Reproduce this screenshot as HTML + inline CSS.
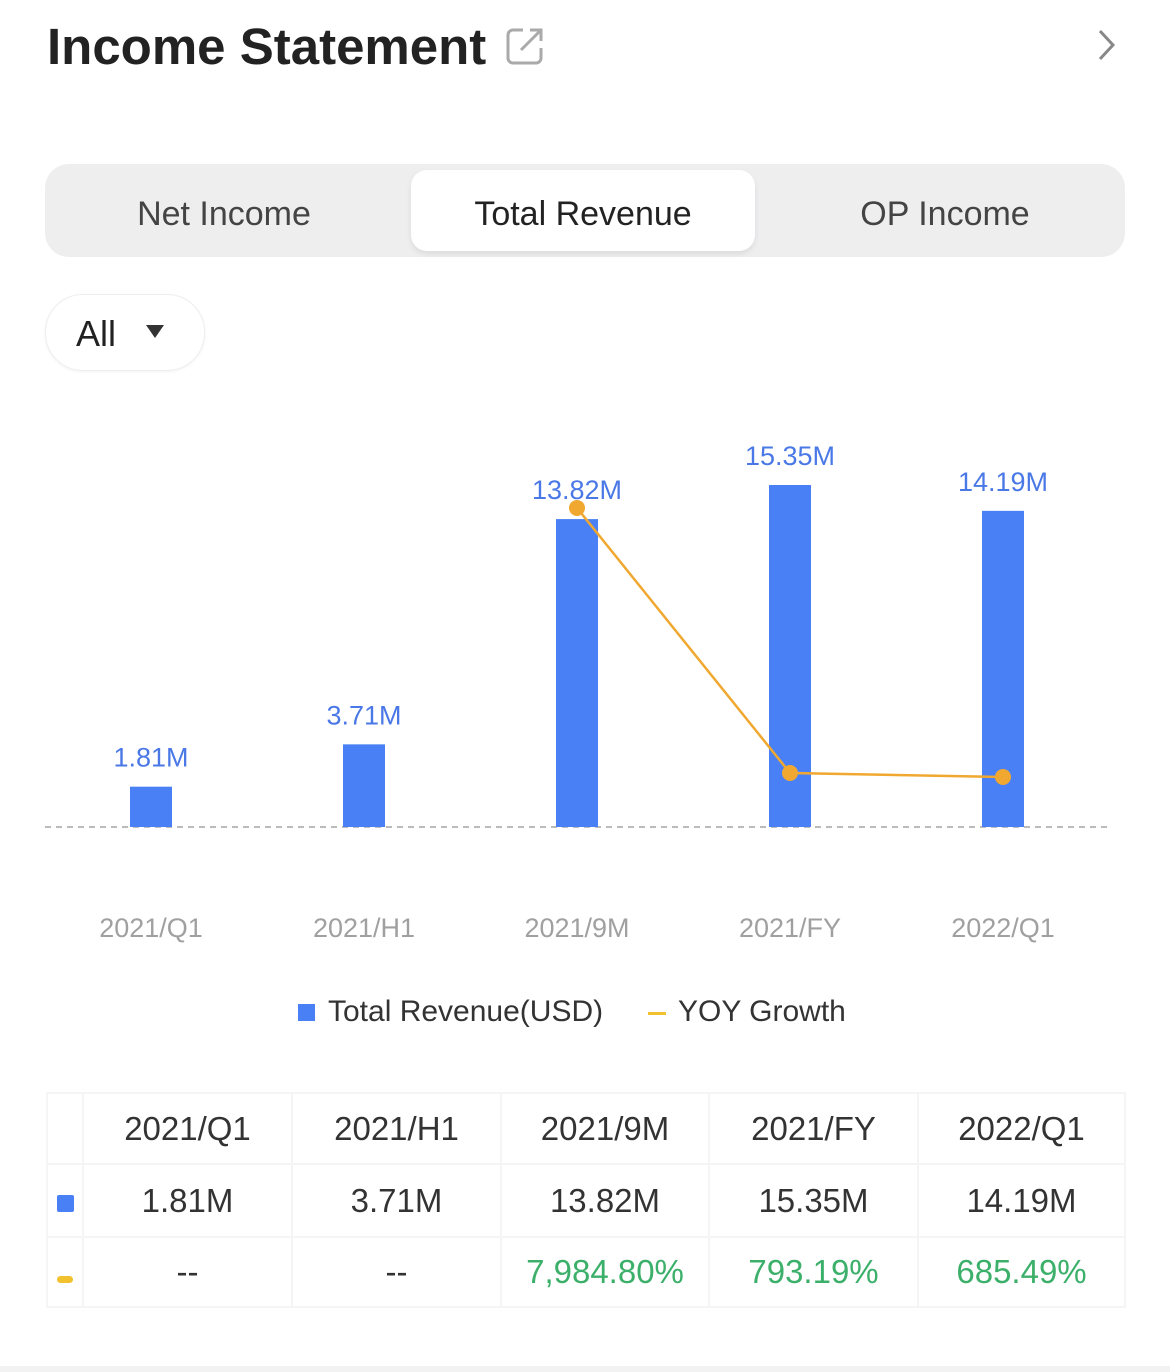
<!DOCTYPE html>
<html><head><meta charset="utf-8"><style>
body{margin:0;width:1170px;height:1372px;background:#fff;font-family:"Liberation Sans",sans-serif;position:relative;overflow:hidden}
.abs{position:absolute}
.tabs{left:45px;top:164px;width:1080px;height:93px;background:#eeeeef;border-radius:24px}
.tab{position:absolute;top:4px;height:93px;line-height:93px;text-align:center;font-size:34px;color:#444;width:344px}
.tab.active{background:#fff;top:6px;height:81px;line-height:89px;border-radius:16px;color:#222;box-shadow:0 3px 6px rgba(0,0,0,.08)}
table{border-collapse:collapse;position:absolute;left:46px;top:1092px}
td{border:2px solid #f5f5f5;text-align:center;font-size:33px;color:#333;padding:0}
</style></head><body>
<div class="abs" style="left:47px;top:17px;font-size:51px;font-weight:bold;color:#222">Income Statement</div>
<svg class="abs" style="left:505px;top:26px" width="40" height="40"><path d="M18 4H8a5 5 0 0 0-5 5v23a5 5 0 0 0 5 5h23a5 5 0 0 0 5-5V22" fill="none" stroke="#aaa" stroke-width="3"/><path d="M16 24L35 5M25 4h11v11" fill="none" stroke="#aaa" stroke-width="3"/></svg>
<svg class="abs" style="left:1096px;top:28px" width="22" height="34"><path d="M4 3l13 14L4 31" fill="none" stroke="#888" stroke-width="3"/></svg>
<div class="abs tabs">
<div class="tab" style="left:7px">Net Income</div>
<div class="tab active" style="left:366px">Total Revenue</div>
<div class="tab" style="left:728px">OP Income</div>
</div>
<div class="abs" style="left:45px;top:294px;width:158px;height:75px;border:1px solid #eee;border-radius:38px;box-shadow:0 1px 3px rgba(0,0,0,.05)">
<span style="position:absolute;left:30px;top:18px;font-size:36px;color:#222">All</span>
<span style="position:absolute;left:100px;top:30px;width:0;height:0;border-left:9px solid transparent;border-right:9px solid transparent;border-top:13px solid #333"></span>
</div>
<svg class="abs" id="chart" style="left:0;top:400px" width="1170" height="560"></svg>
<div class="abs" style="left:298px;top:995px;font-size:30px;color:#333"><span style="display:inline-block;width:17px;height:17px;background:#4a80f5;margin-right:13px"></span>Total Revenue(USD)</div>
<div class="abs" style="left:648px;top:995px;font-size:30px;color:#333"><span style="display:inline-block;width:18px;height:3px;background:#f2c12e;vertical-align:middle;margin-right:12px"></span>YOY Growth</div>
<table>
<tr style="height:71px"><td style="width:34px"></td><td style="width:207px">2021/Q1</td><td style="width:207px">2021/H1</td><td style="width:206px">2021/9M</td><td style="width:207px">2021/FY</td><td style="width:205px">2022/Q1</td></tr>
<tr style="height:73px"><td><span style="display:inline-block;width:17px;height:17px;background:#4a80f5;border-radius:2px"></span></td><td>1.81M</td><td>3.71M</td><td>13.82M</td><td>15.35M</td><td>14.19M</td></tr>
<tr style="height:70px"><td><span style="display:inline-block;width:16px;height:7px;background:#f2c12e;border-radius:4px"></span></td><td>--</td><td>--</td><td style="color:#3cb06a">7,984.80%</td><td style="color:#3cb06a">793.19%</td><td style="color:#3cb06a">685.49%</td></tr>
</table>
<div class="abs" style="left:0;top:1366px;width:1170px;height:6px;background:#f2f2f2"></div>
<script>
const categories=["2021/Q1","2021/H1","2021/9M","2021/FY","2022/Q1"];
const revenue=[1.81,3.71,13.82,15.35,14.19];
const revenueLabels=["1.81M","3.71M","13.82M","15.35M","14.19M"];
const yoy=[null,null,7984.80,793.19,685.49];
const svg=document.getElementById('chart');
const NS='http://www.w3.org/2000/svg';
const base=427;
const x=i=>151+i*213;
const yRev=v=>base-v*22.28;
const yYoy=v=>402.2-v*0.03685;
function mk(t,a){const e=document.createElementNS(NS,t);for(const k in a)e.setAttribute(k,a[k]);svg.appendChild(e);return e;}
const bl=mk('line',{x1:45,x2:1108,y1:base,y2:base,stroke:'#bbb','stroke-width':2,'stroke-dasharray':'6,5'});


revenue.forEach((v,i)=>{
const r=mk('rect',{x:x(i)-21,y:yRev(v),width:42,height:base-yRev(v),fill:'#4a80f5'});


const t=mk('text',{x:x(i),y:yRev(v)-20,'text-anchor':'middle','font-size':27,fill:'#4a78e6','font-family':'Liberation Sans'});
t.textContent=revenueLabels[i];


const c=mk('text',{x:x(i),y:537,'text-anchor':'middle','font-size':27,fill:'#a0a0a0','font-family':'Liberation Sans'});
c.textContent=categories[i];


});
const pts=yoy.map((v,i)=>v==null?null:[x(i),yYoy(v)]).filter(p=>p);
const pl=mk('polyline',{points:pts.map(p=>p.join(',')).join(' '),fill:'none',stroke:'#f0a830','stroke-width':2.5});


pts.forEach(p=>{const c=mk('circle',{cx:p[0],cy:p[1],r:8,fill:'#f0a830'});

});
</script>
</body></html>
